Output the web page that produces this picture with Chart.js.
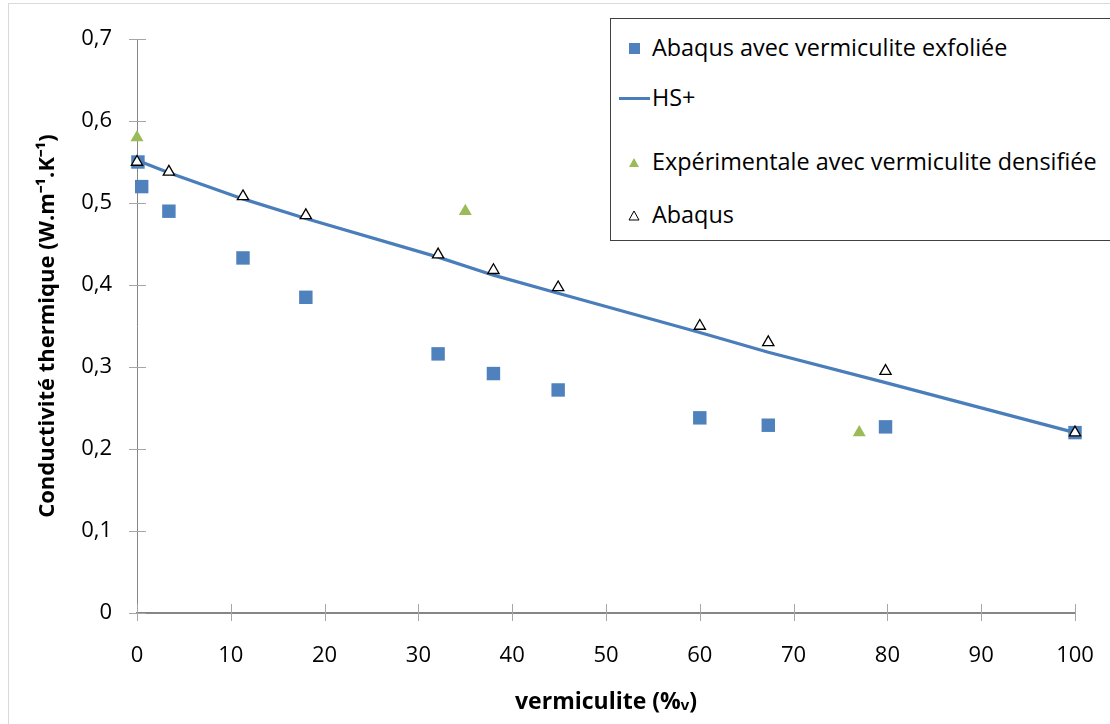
<!DOCTYPE html>
<html>
<head>
<meta charset="utf-8">
<script src="https://cdn.jsdelivr.net/npm/chart.js@4.4.0/dist/chart.umd.min.js"></script>
<style>
  html, body { margin: 0; padding: 0; background: #fff; }
  #wrap { position: relative; width: 1110px; height: 724px; overflow: hidden; }
  #frame { position: absolute; left: 8px; top: 3px; width: 1200px; height: 800px; border: 1px solid #d9d9d9; box-sizing: border-box; pointer-events: none; }
  canvas { position: absolute; left: 0; top: 0; }
  #legend { position: absolute; left: 610px; top: 18px; width: 510px; height: 223px; border: 1px solid #404040; background: #fff; box-sizing: border-box; font-family: "Open Sans", "Liberation Sans", sans-serif; font-size: 23.4px; color: #000; }
  .item { position: absolute; left: 0; height: 26px; line-height: 26px; white-space: nowrap; }
  .item span.txt { position: absolute; left: 41px; top: 0; }
  .mk { position: absolute; }
</style>
</head>
<body>
<div id="wrap">
  <canvas id="c" width="1110" height="724"></canvas>
  <div id="frame"></div>
  <div id="legend"></div>
</div>
<script>
// ---- data ----
const seriesNames = [
  "Abaqus avec vermiculite exfoliée",
  "HS+",
  "Expérimentale avec vermiculite densifiée",
  "Abaqus"
];
const exfolieeX = [0.1, 0.5, 3.4, 11.3, 18.0, 32.1, 38.0, 44.9, 60.0, 67.3, 79.8, 100];
const exfolieeY = [0.550, 0.520, 0.490, 0.433, 0.385, 0.316, 0.292, 0.272, 0.238, 0.229, 0.227, 0.220];
const hsX = [0, 3.4, 11.3, 18.0, 32.1, 38.0, 44.9, 60.0, 67.3, 79.8, 100];
const hsY = [0.552, 0.537, 0.505, 0.481, 0.434, 0.412, 0.390, 0.342, 0.318, 0.281, 0.220];
const expX = [0, 35, 77];
const expY = [0.580, 0.490, 0.220];
const abaqusX = [0, 3.4, 11.3, 18.0, 32.1, 38.0, 44.9, 60.0, 67.3, 79.8, 100];
const abaqusY = [0.550, 0.538, 0.508, 0.485, 0.437, 0.418, 0.397, 0.350, 0.330, 0.295, 0.220];
const xTicks = [0, 10, 20, 30, 40, 50, 60, 70, 80, 90, 100];
const yTicks = [0, 0.1, 0.2, 0.3, 0.4, 0.5, 0.6, 0.7];
const xTitle = "vermiculite (%ᵥ)";
const yTitle = "Conductivité thermique (W.m⁻¹.K⁻¹)";

function pts(xs, ys) { return xs.map((x, i) => ({ x: x, y: ys[i] })); }

const FONT = "'Open Sans', 'Liberation Sans', sans-serif";
const BLUE = "#4f81bd";
const LINEBLUE = "#4a7ebb";
const GREEN = "#9bbb59";

const crossTicks = {
  id: 'crossTicks',
  afterDraw(chart) {
    const ctx = chart.ctx;
    const xs = chart.scales.x, ys = chart.scales.y;
    ctx.save();
    ctx.strokeStyle = '#a6a6a6';
    ctx.lineWidth = 1;
    yTicks.forEach(v => {
      const p = Math.round(ys.getPixelForValue(v)) + 0.5;
      ctx.beginPath(); ctx.moveTo(xs.left - 8, p); ctx.lineTo(xs.left + 9, p); ctx.stroke();
    });
    xTicks.forEach(v => {
      const p = Math.round(xs.getPixelForValue(v)) + 0.5;
      ctx.beginPath(); ctx.moveTo(p, ys.bottom - 9); ctx.lineTo(p, ys.bottom + 8); ctx.stroke();
    });
    ctx.restore();
  }
};

const chart = new Chart(document.getElementById('c'), {
  type: 'scatter',
  data: {
    datasets: [
      { label: seriesNames[0], data: pts(exfolieeX, exfolieeY), pointStyle: 'rect', pointRadius: 9.5,
        backgroundColor: BLUE, borderColor: BLUE, borderWidth: 0, showLine: false, order: 3, clip: false },
      { label: seriesNames[1], data: pts(hsX, hsY), showLine: true, pointRadius: 0, borderColor: LINEBLUE,
        borderWidth: 3.2, backgroundColor: LINEBLUE, order: 2, clip: false },
      { label: seriesNames[2], data: pts(expX, expY), pointStyle: 'triangle', pointRadius: 7.5,
        backgroundColor: GREEN, borderColor: GREEN, borderWidth: 0, showLine: false, order: 1, clip: false },
      { label: seriesNames[3], data: pts(abaqusX, abaqusY), pointStyle: 'triangle', pointRadius: 6.5,
        backgroundColor: '#ffffff', borderColor: '#000000', borderWidth: 1.3, showLine: false, order: 0, clip: false }
    ]
  },
  options: {
    responsive: false,
    animation: false,
    devicePixelRatio: 1,
    layout: { padding: { left: 0, top: 39, right: 35, bottom: 0 } },
    plugins: { legend: { display: false }, tooltip: { enabled: false } },
    scales: {
      x: {
        type: 'linear', min: 0, max: 100,
        afterBuildTicks: s => { s.ticks = xTicks.map(v => ({ value: v })); },
        afterFit: s => { s.height = 111; s.paddingLeft = 0; s.paddingRight = 0; },
        grid: { display: false, drawOnChartArea: false, drawTicks: false },
        border: { display: true, color: '#868686', width: 2 },
        ticks: { color: '#000', font: { family: FONT, size: 22 }, padding: 30 },
        title: { display: true, text: xTitle, color: '#000', font: { family: FONT, size: 23, weight: 'bold' }, padding: { top: 0, bottom: 8 } }
      },
      y: {
        type: 'linear', min: 0, max: 0.7,
        afterBuildTicks: s => { s.ticks = yTicks.map(v => ({ value: v })); },
        afterFit: s => { s.width = 137; s.paddingTop = 0; s.paddingBottom = 0; },
        grid: { display: false, drawOnChartArea: false, drawTicks: false },
        border: { display: true, color: '#868686', width: 1 },
        ticks: { color: '#000', font: { family: FONT, size: 22 }, padding: 25,
          callback: v => String(Math.round(v * 10) / 10).replace('.', ',') },
        title: { display: true, text: yTitle, color: '#000', font: { family: FONT, size: 22, weight: 'bold' }, padding: { top: 35, bottom: 0 } }
      }
    }
  },
  plugins: [crossTicks]
});

// ---- HTML legend built from datasets ----
const legend = document.getElementById('legend');
const rowTops = [15, 65, 129, 182];
chart.data.datasets.forEach((ds, i) => {
  const it = document.createElement('div');
  it.className = 'item';
  it.style.top = rowTops[i] + 'px';
  const mk = document.createElement('div');
  mk.className = 'mk';
  if (i === 0) {
    Object.assign(mk.style, { left: '18px', top: '9px', width: '11px', height: '11px', background: ds.backgroundColor });
  } else if (i === 1) {
    Object.assign(mk.style, { left: '8px', top: '13px', width: '31px', height: '3px', background: ds.borderColor });
  } else if (i === 2) {
    Object.assign(mk.style, { left: '18px', top: '10px', width: '0', height: '0', borderLeft: '5px solid transparent', borderRight: '5px solid transparent', borderBottom: '9px solid ' + ds.backgroundColor });
  } else {
    mk.innerHTML = '<svg width="12" height="11"><polygon points="6,1 11,10 1,10" fill="#fff" stroke="#000" stroke-width="1"/></svg>';
    Object.assign(mk.style, { left: '17px', top: '9px', lineHeight: '0' });
  }
  const t = document.createElement('span');
  t.className = 'txt';
  t.textContent = ds.label;
  it.appendChild(mk);
  it.appendChild(t);
  legend.appendChild(it);
});
</script>
</body>
</html>
